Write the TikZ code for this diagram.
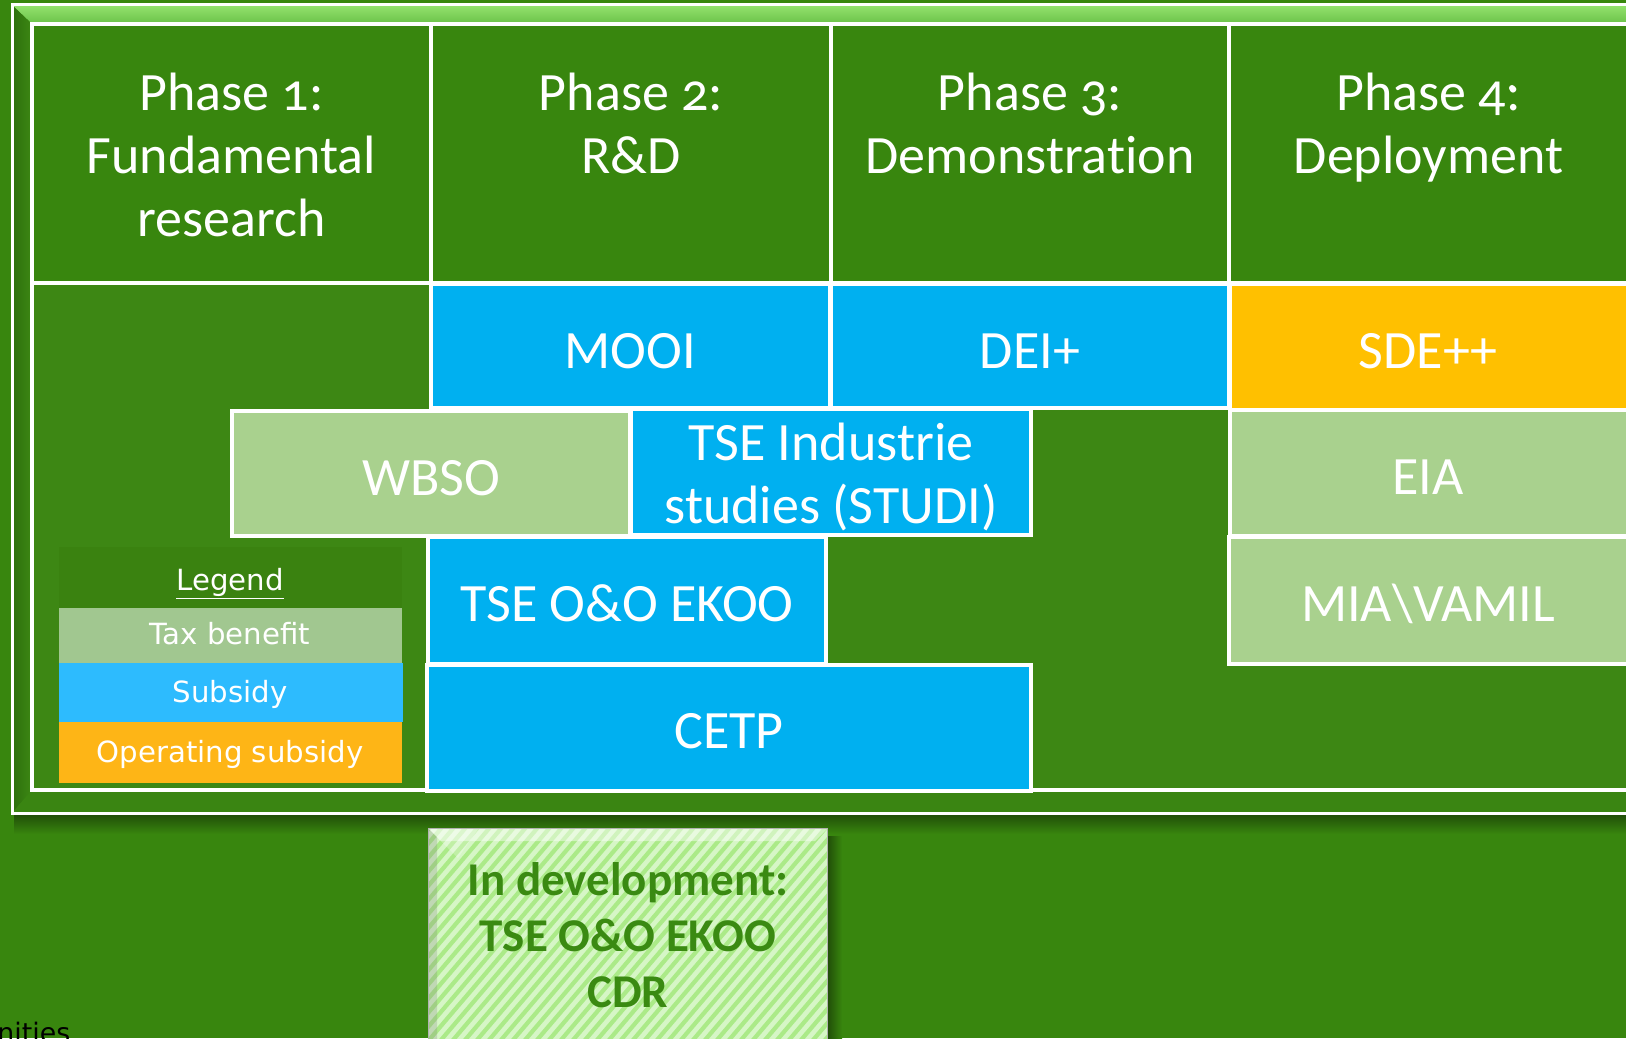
\documentclass[tikz,border=0pt]{standalone}
\usepackage{fontspec}
\setmainfont{Carlito}[Numbers=OldStyle,Ligatures=NoCommon]
\newfontfamily\legfont{DejaVu Sans}
\usetikzlibrary{fit}
\definecolor{bggreen}{HTML}{38860E}
\definecolor{tablegreen}{HTML}{3D8714}
\definecolor{hdrgreen}{HTML}{38860E}
\definecolor{subblue}{HTML}{00B0F0}
\definecolor{opyellow}{HTML}{FFC000}
\definecolor{taxgreen}{HTML}{A9D18E}
\definecolor{legbg}{HTML}{3A8210}
\definecolor{legtax}{HTML}{A1C790}
\definecolor{legsub}{HTML}{2DBBFE}
\definecolor{legop}{HTML}{FEB516}
\definecolor{bevtop}{HTML}{94E26E}
\definecolor{bevbot}{HTML}{6AC248}
\definecolor{bevleft}{HTML}{2C700C}
\definecolor{bevbottom}{HTML}{3A8512}
\definecolor{devfill}{HTML}{D6F6C6}
\definecolor{devstripe}{HTML}{ABEA88}
\definecolor{devtext}{HTML}{3A8A12}
\begin{document}
\begin{tikzpicture}[x=0.5pt,y=-0.5pt,
  cellbox/.style={draw=white,line width=1.6pt,inner sep=0pt},
  bigtxt/.style={text=white,font=\fontsize{27}{31.5}\selectfont,align=center,inner sep=0pt},
  hdrtxt/.style={bigtxt,anchor=north},
  legtxt/.style={text=white,font=\legfont\fontsize{14.6}{17}\selectfont,inner sep=0pt},
  devtxt/.style={text=devtext,font=\bfseries\fontsize{23.5}{28}\selectfont,align=center,anchor=north,inner sep=0pt}]
\useasboundingbox (0,0) rectangle (1626,1038);
\clip (0,0) rectangle (1626,1038);
\fill[bggreen] (0,0) rectangle (1626,1038);
% shadow under the frame
\shade[top color=black!45!bggreen,bottom color=bggreen] (14,813) rectangle (1626,834);
% frame bevels
\shade[top color=bevtop,bottom color=bevbot] (12,5) -- (1650,5) -- (1650,24) -- (32,24) -- cycle;
\shade[left color=bevleft,right color=tablegreen] (12,5) -- (32,24) -- (32,790) -- (12,813) -- cycle;
\fill[bevbottom] (12,813) -- (32,790) -- (1650,790) -- (1650,813) -- cycle;
\draw[white,line width=1.5pt] (1650,5) -- (12,5) -- (12,813) -- (1650,813);
% table
\fill[tablegreen] (32,24) rectangle (1628,790);
\draw[white,line width=1.6pt] (32,24) rectangle (1628,790);
% header
\node[cellbox,fill=hdrgreen,fit={(32,24) (431,283)}] (h1) {};
\node[cellbox,fill=hdrgreen,fit={(431,24) (831,283)}] (h2) {};
\node[cellbox,fill=hdrgreen,fit={(831,24) (1229,283)}] (h3) {};
\node[cellbox,fill=hdrgreen,fit={(1229,24) (1628,283)}] (h4) {};
\node[hdrtxt] (h1t) at (231.5,66) {\strut Phase 1:\\Fundamental\\research};
\node[hdrtxt] (h2t) at (631,66) {\strut Phase 2:\\R\&D};
\node[hdrtxt] (h3t) at (1030,66) {\strut Phase 3:\\Demonstration};
\node[hdrtxt] (h4t) at (1428.5,66) {\strut Phase 4:\\Deployment};
% instruments
\node[cellbox,fill=subblue,fit={(431,284) (830,408)}] (mooi) {};
\node[cellbox,fill=subblue,fit={(831,284) (1229,408)}] (dei) {};
\node[cellbox,fill=opyellow,fit={(1230,284) (1628,410)}] (sde) {};
\node[cellbox,fill=taxgreen,fit={(232,411) (630,536)}] (wbso) {};
\node[cellbox,fill=subblue,fit={(631,409) (1031,535)}] (studi) {};
\node[cellbox,fill=taxgreen,fit={(1230,410) (1628,536)}] (eia) {};
\node[cellbox,fill=subblue,fit={(428,537) (826,664)}] (ekoo) {};
\node[cellbox,fill=taxgreen,fit={(1229,537) (1628,664)}] (mia) {};
\node[cellbox,fill=subblue,fit={(427,665) (1031,791)}] (cetp) {};
\node[bigtxt,anchor=base] (mooit) at (630,368) {MOOI};
\node[bigtxt,anchor=base] (deit) at (1030,368) {DEI+};
\node[bigtxt,anchor=base] (sdet) at (1428,368) {SDE++};
\node[bigtxt,anchor=base] (wbsot) at (431,495) {WBSO};
\node[bigtxt,anchor=north] (studit) at (831,416) {\strut TSE Industrie\\studies (STUDI)};
\node[bigtxt,anchor=base] (eiat) at (1428,494) {EIA};
\node[bigtxt,anchor=base] (ekoot) at (627,621) {TSE O\&O EKOO};
\node[bigtxt,anchor=base] (miat) at (1428,621) {MIA\textbackslash VAMIL};
\node[bigtxt,anchor=base] (cetpt) at (729,748) {CETP};
% legend
\node[fill=legbg,inner sep=0pt,fit={(59,547) (402,608)}] (legend) {};
\node[fill=legtax,inner sep=0pt,fit={(59,608) (402,663)}] (ltax) {};
\node[fill=legsub,inner sep=0pt,fit={(59,663) (403,722)}] (lsub) {};
\node[fill=legop,inner sep=0pt,fit={(59,722) (402,783)}] (lop) {};
\node[legtxt,anchor=base] (legendt) at (230,590) {\underline{Legend}};
\node[legtxt,anchor=base] (ltaxt) at (230,644) {Tax benefit};
\node[legtxt,anchor=base] (lsubt) at (230,702) {Subsidy};
\node[legtxt,anchor=base] (lopt) at (230,762) {Operating subsidy};
% in development box
\shade[left color=black!40!bggreen,right color=bggreen] (828,836) rectangle (842,1040);
\node[fill=devfill,inner sep=0pt,fit={(429,829) (827,1045)}] (devbox) {};
\begin{scope}
  \clip (devbox.north west) rectangle (devbox.south east);
  \foreach \x in {220,232,...,840} \draw[devstripe,line width=2.1pt] (\x,1060) -- ++(200,-235);
  \fill[white,opacity=0.45] (429,829) -- (827,829) -- (815,841) -- (441,841) -- cycle;
  \fill[white,opacity=0.25] (429,829) -- (478,829) -- (458,858) -- cycle;
  \fill[gray,opacity=0.25] (429,829) -- (437,837) -- (437,1045) -- (429,1045) -- cycle;
\end{scope}
\draw[gray!60,line width=0.8pt] (devbox.south west) -- (devbox.north west) -- (devbox.north east) -- (devbox.south east);
\node[devtxt] (dev) at (628,856) {\strut In development:\\TSE O\&O EKOO\\CDR};
% remnants
\node[anchor=base west,inner sep=0pt,font=\legfont\fontsize{13.4}{16}\selectfont] (cut) at (-3,1042) {nities};
\node[circle,fill=white,inner sep=0pt,minimum size=3pt] (dot) at (1512,88) {};
\end{tikzpicture}
\end{document}
